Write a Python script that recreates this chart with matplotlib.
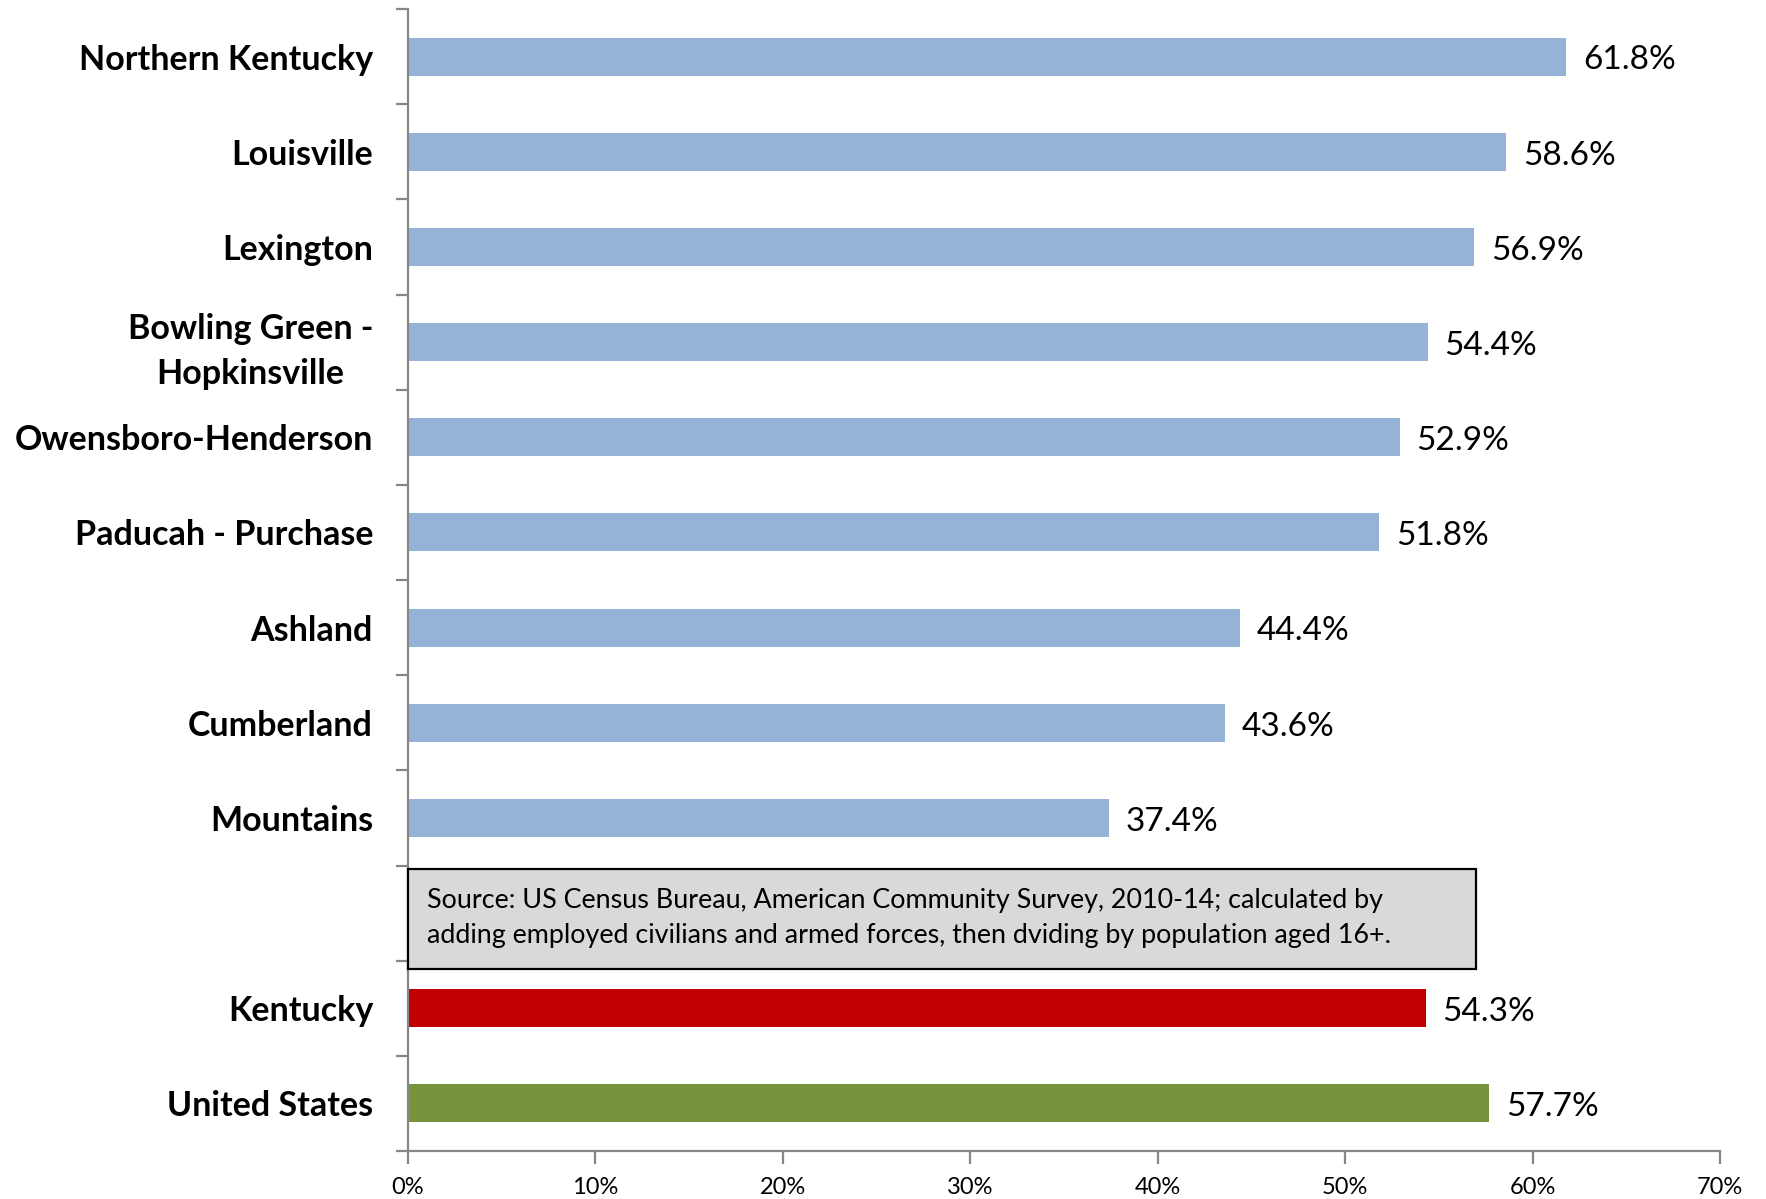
import matplotlib.pyplot as plt
from matplotlib.patches import Rectangle
from matplotlib.ticker import FixedLocator

plt.rcParams['font.family'] = ['Lato', 'DejaVu Sans']

# datos (tasa de empleo, %)
regiones = ["Northern Kentucky", "Louisville", "Lexington", "Bowling Green -\nHopkinsville",
            "Owensboro-Henderson", "Paducah - Purchase", "Ashland", "Cumberland", "Mountains",
            "", "Kentucky", "United States"]
valores = [61.8, 58.6, 56.9, 54.4, 52.9, 51.8, 44.4, 43.6, 37.4, None, 54.3, 57.7]
colores = ["#95B3D7"] * 9 + ["white", "#C00000", "#77933C"]
ticks_x = [0, 10, 20, 30, 40, 50, 60, 70]
fuente = ("Source: US Census Bureau, American Community Survey, 2010-14; calculated by\n"
          "adding employed civilians and armed forces, then dviding by population aged 16+.")

fig = plt.figure(figsize=(17.66, 11.99), dpi=100)
ax = fig.add_axes([0.2309, 0.04, 0.7431, 0.9525])

pos = list(range(len(regiones)))
for i, v in enumerate(valores):
    if v is None:
        continue
    ax.barh(i, v, height=0.4, color=colores[i], zorder=2)
    ax.text(v + 0.9, i + 0.04, f"{v:.1f}%", va="center", ha="left", fontsize=24)

ax.set_xlim(0, 70)
ax.set_ylim(len(regiones) - 0.5, -0.5)

ax.set_xticks(ticks_x)
ax.set_xticklabels([f"{t}%" for t in ticks_x], fontsize=17)
ax.set_yticks(pos)
ax.set_yticklabels(regiones, fontsize=24.5, fontweight="bold")
for lab in ax.get_yticklabels():
    lab.set_multialignment("center")
    lab.set_linespacing(1.5)
ax.yaxis.set_minor_locator(FixedLocator([p - 0.5 for p in pos] + [len(regiones) - 0.5]))

gris = "#868686"
for lado in ["top", "right"]:
    ax.spines[lado].set_visible(False)
for lado in ["left", "bottom"]:
    ax.spines[lado].set_color(gris)
    ax.spines[lado].set_linewidth(1.6)
ax.tick_params(axis="x", direction="out", length=9, width=1.6, color=gris, pad=10)
ax.tick_params(axis="y", which="major", length=0, pad=25)
ax.tick_params(axis="y", which="minor", direction="out", length=9, width=1.6, color=gris)

# recuadro con la fuente
ax.add_patch(Rectangle((0, 8.54), 57.0, 1.05, facecolor="#D9D9D9", edgecolor="black",
                       linewidth=1.6, zorder=3, clip_on=False))
ax.text(1.0, 9.055, fuente, va="center", ha="left", fontsize=19.4, linespacing=1.5, zorder=4)

plt.savefig("out.png", dpi=100)
